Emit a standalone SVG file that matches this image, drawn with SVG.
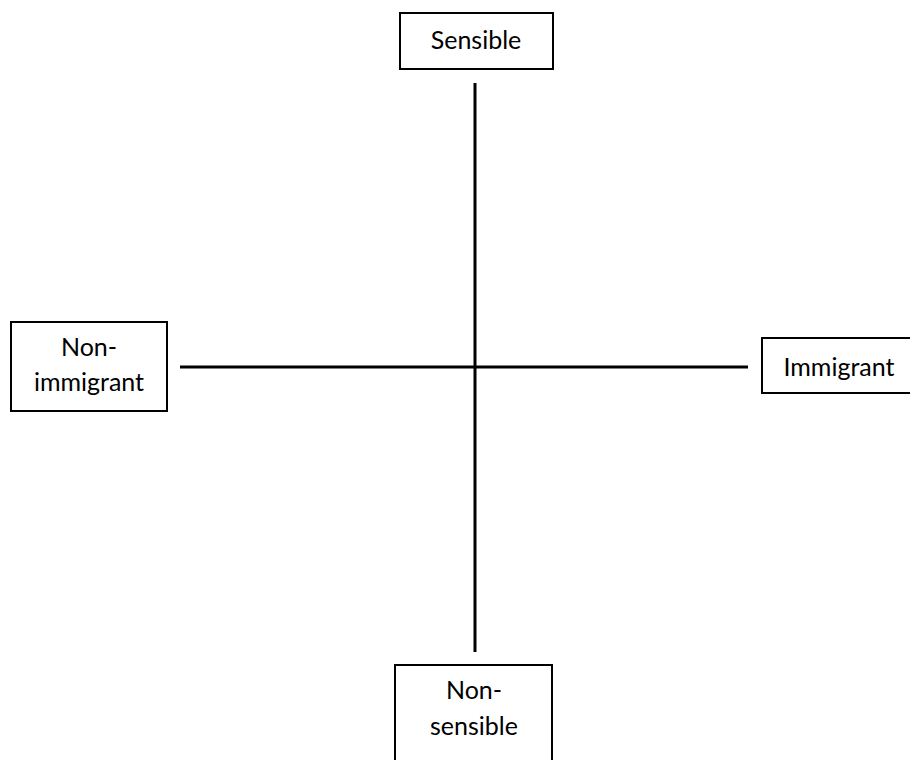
<svg xmlns="http://www.w3.org/2000/svg" width="910" height="760" viewBox="0 0 910 760">
  <style>
    .box { fill: #ffffff; stroke: #000000; stroke-width: 2; }
    .lbl { font-family: "Lato", "Liberation Sans", sans-serif; font-size: 25px; fill: #000000; text-anchor: middle; }
    .axis { stroke: #000000; stroke-width: 3; fill: none; }
  </style>
  <rect width="910" height="760" fill="#ffffff"/>
  <g id="connectors">
    <line class="axis" x1="475" y1="83" x2="475" y2="652"/>
    <line class="axis" x1="180" y1="367" x2="748" y2="367"/>
  </g>
  <g id="sensible">
    <rect class="box" x="400" y="13" width="153" height="56"/>
    <text class="lbl" x="476" y="49">Sensible</text>
  </g>
  <g id="non-immigrant">
    <rect class="box" x="11" y="322" width="156" height="89"/>
    <text class="lbl" x="89" y="356">Non-</text>
    <text class="lbl" x="89" y="391">immigrant</text>
  </g>
  <g id="immigrant">
    <rect class="box" x="762" y="338" width="160" height="55"/>
    <text class="lbl" x="839" y="376">Immigrant</text>
  </g>
  <g id="non-sensible">
    <rect class="box" x="395" y="665" width="157" height="110"/>
    <text class="lbl" x="474" y="699">Non-</text>
    <text class="lbl" x="474" y="735">sensible</text>
  </g>
</svg>
